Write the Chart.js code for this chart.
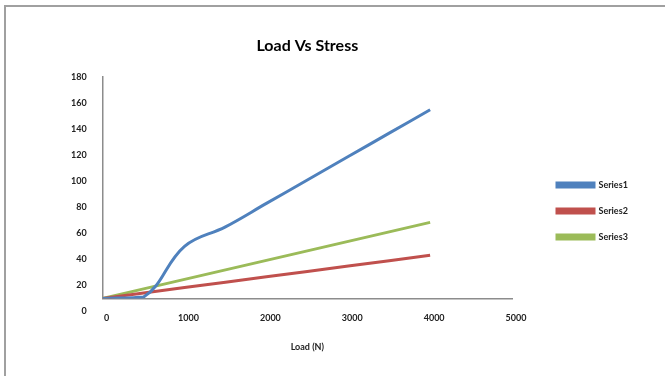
<!DOCTYPE html>
<html>
<head>
<meta charset="utf-8">
<script src="https://cdn.jsdelivr.net/npm/chart.js@4/dist/chart.umd.min.js"></script>
<style>
    html, body { margin: 0; padding: 0; background: #fff; }
    #wrap { position: relative; width: 665px; height: 376px; overflow: hidden; }
    #frame { position: absolute; left: 4px; top: 5px; width: 700px; height: 400px;
             border-top: 2px solid #a0a0a0; border-left: 2px solid #a0a0a0; }
    #load-stress { position: absolute; left: 0; top: 0; }
</style>
</head>
<body>
<div id="wrap">
    <div id="frame"></div>
    <canvas id="load-stress" width="665" height="376"></canvas>
</div>
<script>
const canvas = document.getElementById('load-stress');

// values
const loads = [0, 500, 1000, 1500, 2000, 2500, 3000, 3500, 4000];
const series1 = [10, 11, 50, 65, 83, 101, 119, 137, 155];
const series2 = [10, 14.1, 18.3, 22.4, 26.6, 30.7, 34.9, 39, 43.2];
const series3 = [10, 17.3, 24.6, 31.9, 39.2, 46.5, 53.8, 61.1, 68.4];
const seriesNames = ['Series1', 'Series2', 'Series3'];
const yTicks = [0, 20, 40, 60, 80, 100, 120, 140, 160, 180];
const xTicks = [0, 1000, 2000, 3000, 4000, 5000];

const colors = ['#4f81bd', '#c0504d', '#9bbb59'];
const tensions = [0.4, 0, 0];
const font = {family: 'Lato', size: 9, weight: 'bold'};

function toPoints(values) {
    return values.map((v, i) => ({x: loads[i], y: v}));
}

function generateChart(canvas) {
    const datasets = [series1, series2, series3].map((values, i) => ({
        label: seriesNames[i],
        data: toPoints(values),
        borderColor: colors[i],
        backgroundColor: colors[i],
        borderWidth: 3,
        pointRadius: 0,
        showLine: true,
        tension: tensions[i]
    }));

    new Chart(canvas, {
        type: 'scatter',
        data: {datasets: datasets},
        options: {
            responsive: false,
            animation: false,
            layout: {padding: {top: 10, right: 28, bottom: 20, left: 55}},
            plugins: {
                tooltip: {enabled: false},
                title: {
                    display: true,
                    text: 'Load Vs Stress',
                    fullSize: false,
                    color: '#000',
                    font: {family: 'Lato', size: 16, weight: 'bold'},
                    padding: {top: 26, bottom: 22}
                },
                legend: {
                    position: 'right',
                    title: {display: true, text: '', font: {size: 10}, padding: {top: 44, bottom: 0}},
                    labels: {
                        boxWidth: 37,
                        boxHeight: 4,
                        padding: 17,
                        color: '#222',
                        font: font
                    }
                }
            },
            scales: {
                x: {
                    type: 'linear',
                    min: 0,
                    max: 5000,
                    afterBuildTicks: scale => { scale.ticks = xTicks.map(v => ({value: v})); },
                    ticks: {color: '#222', font: font, padding: 14, labelOffset: 4, callback: v => String(v)},
                    grid: {display: false, drawTicks: false},
                    border: {color: '#8c8c8c', width: 1.5},
                    title: {display: true, text: 'Load (N)', color: '#222', font: font, padding: {top: 4}}
                },
                y: {
                    min: 10,
                    max: 180,
                    afterBuildTicks: scale => { scale.ticks = yTicks.map(v => ({value: v})); },
                    ticks: {color: '#222', font: font, padding: 16},
                    grid: {display: false, drawTicks: false},
                    border: {color: '#8c8c8c', width: 1.5}
                },
                // empty axis that keeps the gap between the plot and the legend
                gap: {
                    type: 'linear',
                    position: 'right',
                    ticks: {display: false},
                    grid: {display: false, drawTicks: false},
                    border: {display: false},
                    afterFit: scale => { scale.width = 28; }
                }
            }
        }
    });
}

document.addEventListener('DOMContentLoaded', e => {
    generateChart(canvas);
});
</script>
</body>
</html>
